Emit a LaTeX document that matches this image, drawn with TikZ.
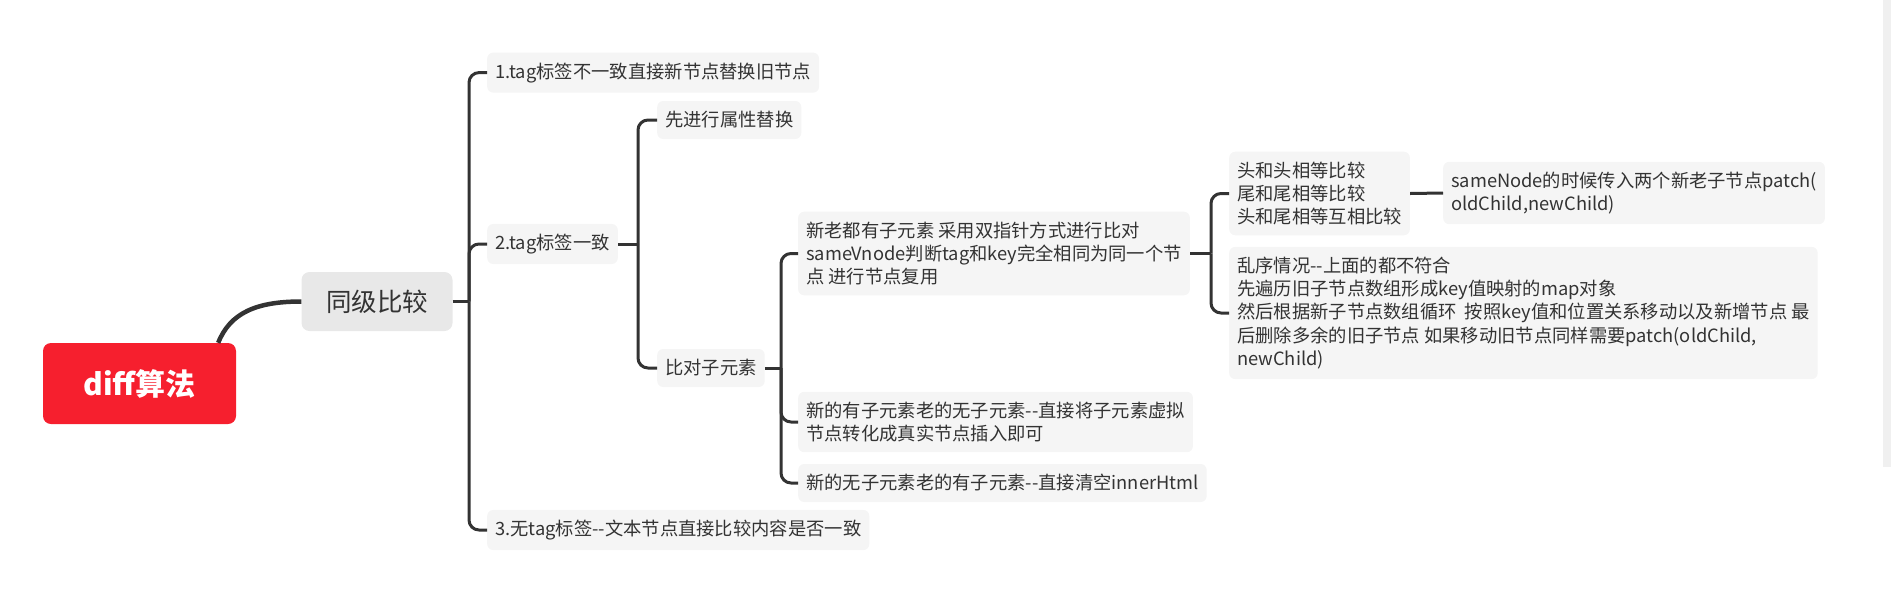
\documentclass[tikz,border=0pt]{standalone}
\usepackage{fontspec}
\setmainfont{Noto Sans CJK SC}
\definecolor{rootred}{HTML}{F61F2E}
\definecolor{boxgray}{HTML}{F5F5F5}
\definecolor{subgray}{HTML}{E8E8E8}
\definecolor{ink}{HTML}{333333}
\definecolor{barbg}{HTML}{F0F0F0}
\tikzset{
  topic/.style={fill=boxgray, rounded corners=6pt, text=ink, anchor=west, align=left,
    inner xsep=8pt, inner ysep=10pt, minimum height=38pt, font=\fontsize{18.3}{23.3}\selectfont},
  link/.style={draw=ink, line width=3pt, rounded corners=10pt},
}
\begin{document}
\begin{tikzpicture}[x=1pt, y=-1pt]
  \useasboundingbox (0,0) rectangle (1891,598);
  \fill[barbg] (1883,0) rectangle (1891,467);

  % root and first level
  \node[fill=rootred, rounded corners=8pt, minimum width=193pt, minimum height=81pt,
        text=white, font=\bfseries\fontsize{30}{36}\selectfont] (root) at (139.5,383.5) {diff算法};
  \node[fill=subgray, rounded corners=8pt, minimum width=151pt, minimum height=59pt,
        text=ink, font=\fontsize{25.5}{30}\selectfont] (level) at (377,301.5) {同级比较};
  \draw[ink, line width=4.5pt] ([xshift=-18pt]root.north east) .. controls +(12,-30) and +(-45,0) .. (level.west);

  % tag cases
  \node[topic] (tagdiff) at (487,72.6) {1.tag标签不一致直接新节点替换旧节点};
  \node[topic] (tagsame) at (487,244) {2.tag标签一致};
  \node[topic] (notag)   at (487,530) {3.无tag标签-{}-文本节点直接比较内容是否一致};

  \node[topic] (attrs) at (657,120) {先进行属性替换};
  \node[topic] (kids)  at (657,368) {比对子元素};

  % children
  \node[topic] (both) at (798,253.5) {新老都有子元素 采用双指针方式进行比对\\sameVnode判断tag和key完全相同为同一个节\\点 进行节点复用};
  \node[topic] (onlynew) at (798,422) {新的有子元素老的无子元素-{}-直接将子元素虚拟\\节点转化成真实节点插入即可};
  \node[topic] (onlyold) at (798,483) {新的无子元素老的有子元素-{}-直接清空innerHtml};

  \node[topic] (ends) at (1229,193.5) {头和头相等比较\\尾和尾相等比较\\头和尾相等互相比较};
  \node[topic] (shuffle) at (1229,313) {乱序情况-{}-上面的都不符合\\先遍历旧子节点数组形成key值映射的map对象\\然后根据新子节点数组循环~~按照key值和位置关系移动以及新增节点 最\\后删除多余的旧子节点 如果移动旧节点同样需要patch(oldChild,\\newChild)};
  \node[topic] (patch) at (1443,193) {sameNode的时候传入两个新老子节点patch(\\oldChild,newChild)};

  % brackets
  \coordinate (s1) at (469,301.5);
  \coordinate (s2) at (638,244);
  \coordinate (s3) at (781,368);
  \coordinate (s4) at (1211,253.5);

  \draw[link] (level.east) -- (s1);
  \draw[link] (s1) |- (tagdiff.west);
  \draw[link] (s1) |- (tagsame.west);
  \draw[link] (s1) |- (notag.west);

  \draw[link] (tagsame.east) -- (s2);
  \draw[link] (s2) |- (attrs.west);
  \draw[link] (s2) |- (kids.west);

  \draw[link] (kids.east) -- (s3);
  \draw[link] (s3) |- (both.west);
  \draw[link] (s3) |- (onlynew.west);
  \draw[link] (s3) |- (onlyold.west);

  \draw[link] (both.east) -- (s4);
  \draw[link] (s4) |- (ends.west);
  \draw[link] (s4) |- (shuffle.west);

  \draw[link] (ends.east) -- (patch.west);
\end{tikzpicture}
\end{document}
